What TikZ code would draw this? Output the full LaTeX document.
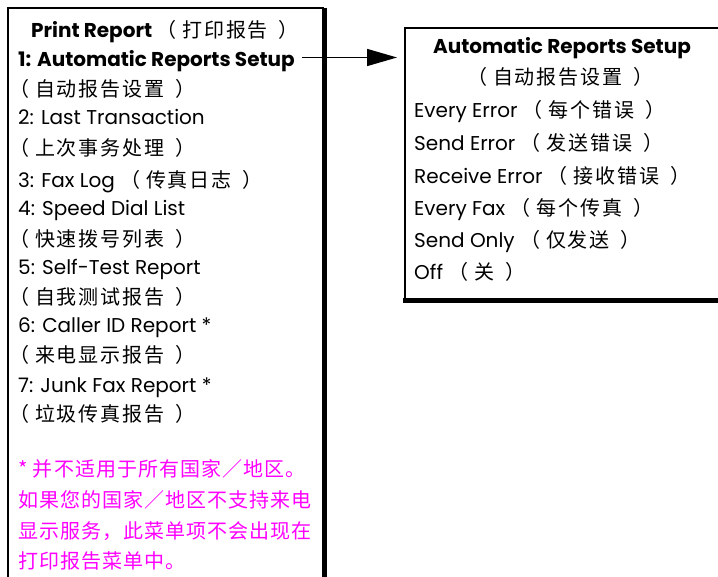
\documentclass[tikz,border=0pt]{standalone}
\usepackage{fontspec}
\setmainfont{Poppins}
\newfontfamily\cjk{Noto Sans CJK SC}[LetterSpace=9]
\newfontfamily\cjknote{Noto Sans CJK SC}[LetterSpace=5]
\usetikzlibrary{arrows.meta}
\definecolor{notepink}{RGB}{255,0,255}
% Chinese in parentheses, as printed with spaces inside the brackets
\newcommand\zq[1]{{\fontsize{20}{22}\cjk\mdseries （\kern0.3em #1\kern0.55em）}}
\newcommand\zqs[1]{\kern-0.45em\zq{#1}}
\newcommand\zn[1]{{\fontsize{20}{22}\cjknote\mdseries #1}}
\tikzset{
  item/.style={anchor=base west,inner sep=0pt,font=\fontsize{20}{22}\selectfont},
  head/.style={anchor=base,inner sep=0pt,font=\fontsize{20}{22}\selectfont\bfseries},
  note/.style={anchor=base west,inner sep=0pt,text=notepink},
  thin/.style={line width=1.2pt},
  thick/.style={line width=5pt},
}
\begin{document}
\begin{tikzpicture}[x=1pt,y=-1pt]
\useasboundingbox (0,0) rectangle (718,577);
% left panel frame
\draw[thin] (8,582) -- (8,8) -- (324,8);
\draw[thick] (324.5,8) -- (324.5,582);
% right panel frame
\draw[thin] (405,301) -- (405,28) -- (722,28);
\draw[thick] (403,301) -- (722,301);
\coordinate (rin) at (397,57.5);
% left texts
\node[head] (h1) at (165,38) {Print Report \zq{打印报告}};
\node[item,font=\fontsize{20}{22}\selectfont\bfseries] (l1) at (18,67) {1: Automatic Reports Setup};
\node[item] (l1c) at (18,97) {\zqs{自动报告设置}};
\node[item] (l2) at (18,125) {2: Last Transaction};
\node[item] (l2c) at (18,156) {\zqs{上次事务处理}};
\node[item] (l3) at (18,188) {3: Fax Log \zq{传真日志}};
\node[item] (l4) at (18,216) {4: Speed Dial List};
\node[item] (l4c) at (18,247) {\zqs{快速拨号列表}};
\node[item] (l5) at (18,275) {5: Self-Test Report};
\node[item] (l5c) at (18,305) {\zqs{自我测试报告}};
\node[item] (l6) at (18,333) {6: Caller ID Report *};
\node[item] (l6c) at (18,363) {\zqs{来电显示报告}};
\node[item] (l7) at (18,392) {7: Junk Fax Report *};
\node[item] (l7c) at (18,421) {\zqs{垃圾传真报告}};
\node[note] (n1) at (18,476) {\zn{* 并不适用于所有国家／地区。}};
\node[note] (n2) at (18,507) {\zn{如果您的国家／地区不支持来电}};
\node[note] (n3) at (18,538) {\zn{显示服务，此菜单项不会出现在}};
\node[note] (n4) at (18,568) {\zn{打印报告菜单中。}};
% right texts
\node[head] (r0) at (562,54) {Automatic Reports Setup};
\node[anchor=base,inner sep=0pt] (r0c) at (560,85) {\zq{自动报告设置}};
\node[item] (r1) at (414,118) {Every Error \zq{每个错误}};
\node[item] (r2) at (414,151) {Send Error \zq{发送错误}};
\node[item] (r3) at (414,184) {Receive Error \zq{接收错误}};
\node[item] (r4) at (414,216) {Every Fax \zq{每个传真}};
\node[item] (r5) at (414,248) {Send Only \zq{仅发送}};
\node[item] (r6) at (414,280) {Off \zq{关}};
% connector
\coordinate (astart) at (302,57.5);
\draw[line width=1.5pt,-{Triangle[length=30pt,width=17pt]}] (astart) -- (rin);
\end{tikzpicture}
\end{document}
